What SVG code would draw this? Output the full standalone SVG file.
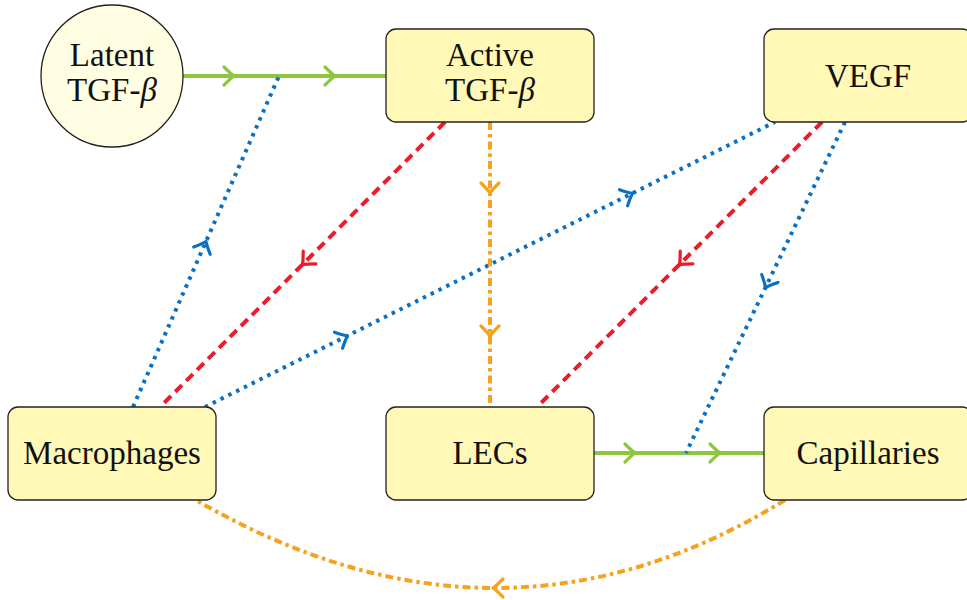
<svg xmlns="http://www.w3.org/2000/svg" width="967" height="600" viewBox="0 0 967 600">
<style>
.box{fill:#FFF8B6;stroke:#222;stroke-width:1.3}
.circ{fill:#FFFDE2;stroke:#222;stroke-width:1.3}
text{font-family:"Liberation Serif","DejaVu Serif",serif;font-size:33px;fill:#111;text-anchor:middle}
.green{stroke:#8DC63F;stroke-width:4.2;fill:none}
.blue{stroke:#0A70BF;stroke-width:4;fill:none;stroke-dasharray:3.5 5.2}
.red{stroke:#EC1C28;stroke-width:4;fill:none;stroke-dasharray:9.5 6}
.orange{stroke:#F7A21E;stroke-width:4;fill:none;stroke-dasharray:8 4 3.5 4}
.ah{fill:none;stroke-width:3.2;stroke-linecap:round;stroke-linejoin:round}
</style>
<defs>
<path id="chev" d="M -10 -9 Q -3 -2 0 0 Q -3 2 -10 9"/>
</defs>
<g id="connectors">
<path class="green" d="M183 76 H386"/>
<use href="#chev" class="ah" stroke="#8DC63F" transform="translate(234 76)"/>
<use href="#chev" class="ah" stroke="#8DC63F" transform="translate(335 76)"/>
<path class="green" d="M594 453 H764"/>
<use href="#chev" class="ah" stroke="#8DC63F" transform="translate(635 453)"/>
<use href="#chev" class="ah" stroke="#8DC63F" transform="translate(720 453)"/>
<path class="blue" d="M133 407 L279 76"/>
<use href="#chev" class="ah" stroke="#0A70BF" transform="translate(206 241.5) rotate(-66.2)"/>
<path class="red" d="M445 122 L160 407"/>
<use href="#chev" class="ah" stroke="#EC1C28" transform="translate(302.5 264.5) rotate(135)"/>
<path class="blue" d="M205 407 L775 122"/>
<use href="#chev" class="ah" stroke="#0A70BF" transform="translate(347.5 335.75) rotate(-26.57)"/>
<use href="#chev" class="ah" stroke="#0A70BF" transform="translate(632.5 193.25) rotate(-26.57)"/>
<path class="orange" d="M490 122 V407"/>
<use href="#chev" class="ah" stroke="#F7A21E" transform="translate(490 193) rotate(90)"/>
<use href="#chev" class="ah" stroke="#F7A21E" transform="translate(490 336) rotate(90)"/>
<path class="red" d="M822 122 L537 407"/>
<use href="#chev" class="ah" stroke="#EC1C28" transform="translate(679.5 264.5) rotate(135)"/>
<path class="blue" d="M845 122 L686 453"/>
<use href="#chev" class="ah" stroke="#0A70BF" transform="translate(765.5 287.5) rotate(115.7)"/>
<path class="orange" d="M785 500 Q499.5 676 196 500"/>
<use href="#chev" class="ah" stroke="#F7A21E" transform="translate(493 588) rotate(180)"/>
</g>
<g id="latent">
<circle class="circ" cx="112" cy="76" r="71"/>
<text x="112" y="66">Latent</text>
<text x="112" y="101">TGF-<tspan font-style="italic">β</tspan></text>
</g>
<g id="active">
<rect class="box" x="386" y="29" width="208" height="93" rx="10"/>
<text x="490" y="66">Active</text>
<text x="490" y="101">TGF-<tspan font-style="italic">β</tspan></text>
</g>
<g id="vegf">
<rect class="box" x="764" y="29" width="208" height="93" rx="10"/>
<text x="868" y="87">VEGF</text>
</g>
<g id="macrophages">
<rect class="box" x="8" y="407" width="208" height="93" rx="10"/>
<text x="112" y="464">Macrophages</text>
</g>
<g id="lecs">
<rect class="box" x="386" y="407" width="208" height="93" rx="10"/>
<text x="490" y="464">LECs</text>
</g>
<g id="capillaries">
<rect class="box" x="764" y="407" width="208" height="93" rx="10"/>
<text x="868" y="464">Capillaries</text>
</g>
</svg>
